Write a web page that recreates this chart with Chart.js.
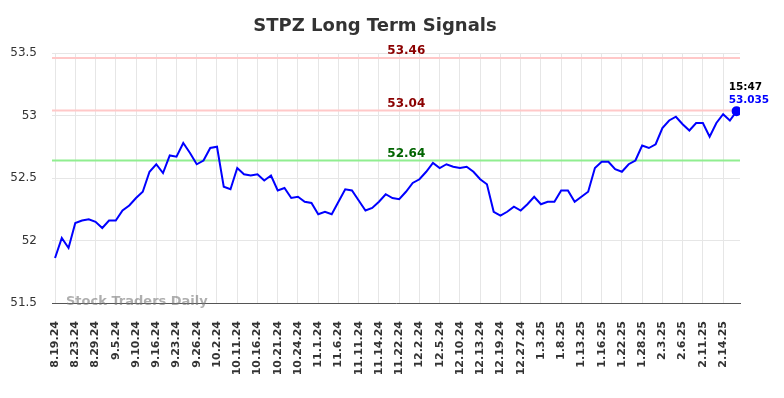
<!DOCTYPE html>
<html>
<head>
<meta charset="utf-8">
<script src="https://cdn.jsdelivr.net/npm/chart.js@4/dist/chart.umd.min.js"></script>
<style>
  html, body { margin: 0; padding: 0; background: #fff; }
  #wrap { width: 784px; height: 398px; }
</style>
</head>
<body>
<div id="wrap"><canvas id="grafica" width="784" height="398"></canvas></div>
<script>
const ticker = "STPZ";
const tickLabels = [
  "8.19.24", "8.23.24", "8.29.24", "9.5.24", "9.10.24", "9.16.24", "9.23.24", "9.26.24",
  "10.2.24", "10.11.24", "10.16.24", "10.21.24", "10.24.24", "11.1.24", "11.6.24", "11.11.24",
  "11.14.24", "11.22.24", "12.2.24", "12.5.24", "12.10.24", "12.13.24", "12.19.24", "12.27.24",
  "1.3.25", "1.8.25", "1.13.25", "1.16.25", "1.22.25", "1.28.25", "2.3.25", "2.6.25",
  "2.11.25", "2.14.25"
];
const pointsPerTick = 3;

const prices = [
  51.86, 52.02, 51.94, 52.14, 52.16, 52.17, 52.15, 52.10, 52.16, 52.16,
  52.24, 52.28, 52.34, 52.39, 52.55, 52.61, 52.54, 52.68, 52.67, 52.78,
  52.70, 52.61, 52.64, 52.74, 52.75, 52.43, 52.41, 52.58, 52.53, 52.52,
  52.53, 52.48, 52.52, 52.40, 52.42, 52.34, 52.35, 52.31, 52.30, 52.21,
  52.23, 52.21, 52.31, 52.41, 52.40, 52.32, 52.24, 52.26, 52.31, 52.37,
  52.34, 52.33, 52.39, 52.46, 52.49, 52.55, 52.62, 52.58, 52.61, 52.59,
  52.58, 52.59, 52.55, 52.49, 52.45, 52.23, 52.20, 52.23, 52.27, 52.24,
  52.29, 52.35, 52.29, 52.31, 52.31, 52.40, 52.40, 52.31, 52.35, 52.39,
  52.58, 52.63, 52.63, 52.57, 52.55, 52.61, 52.64, 52.76, 52.74, 52.77,
  52.90, 52.96, 52.99, 52.93, 52.88, 52.94, 52.94, 52.83, 52.94, 53.01,
  52.96, 53.035
];

const signalLevels = [53.46, 53.04, 52.64];
const signalKinds = ["resistance", "resistance", "support"];

const yTicks = [51.5, 52, 52.5, 53, 53.5];
const lastTime = "15:47";

const FONT = "'DejaVu Sans', sans-serif";
const estilos = {
  resistance: { line: "rgb(255,200,200)", text: "#8b0000" },
  support: { line: "rgb(144,238,144)", text: "#006400" }
};

const puntos = prices.map((v, i) => ({ x: i, y: v }));
const ultimo = prices.length - 1;

// lineas de soporte/resistencia, textos y marca de agua
const signalsPlugin = {
  id: "signals",
  beforeDatasetsDraw(chart) {
    const { ctx, chartArea } = chart;
    const y = chart.scales.y;
    ctx.save();
    signalLevels.forEach((lvl, i) => {
      const py = y.getPixelForValue(lvl);
      ctx.strokeStyle = estilos[signalKinds[i]].line;
      ctx.lineWidth = 2;
      ctx.beginPath();
      ctx.moveTo(chartArea.left, py);
      ctx.lineTo(chartArea.right, py);
      ctx.stroke();
    });
    ctx.restore();
  },
  afterDatasetsDraw(chart) {
    const { ctx, chartArea } = chart;
    const x = chart.scales.x;
    const y = chart.scales.y;
    ctx.save();

    // titulo
    ctx.font = "bold 18px " + FONT;
    ctx.fillStyle = "#333";
    ctx.textAlign = "center";
    ctx.textBaseline = "middle";
    ctx.fillText(`${ticker} Long Term Signals`, 375, 26);

    // etiquetas de niveles
    ctx.font = "bold 12px " + FONT;
    ctx.textBaseline = "alphabetic";
    const cx = chartArea.left + chartArea.width * 0.515;
    signalLevels.forEach((lvl, i) => {
      ctx.fillStyle = estilos[signalKinds[i]].text;
      ctx.fillText(lvl.toFixed(2), cx, y.getPixelForValue(lvl) - 4);
    });

    // marca de agua
    ctx.font = "bold 13px " + FONT;
    ctx.fillStyle = "rgba(120,120,120,0.6)";
    ctx.textAlign = "left";
    ctx.textBaseline = "middle";
    ctx.fillText("Stock Traders Daily", chartArea.left + 14, chartArea.bottom - 1);

    // ultimo valor
    const px = x.getPixelForValue(ultimo);
    const py = y.getPixelForValue(prices[ultimo]);
    ctx.font = "bold 10.5px " + FONT;
    ctx.fillStyle = "#000";
    ctx.fillText(lastTime, px - 8, py - 24);
    ctx.fillStyle = "#0000ff";
    ctx.fillText(prices[ultimo].toFixed(3), px - 8, py - 11);
    ctx.restore();
  }
};

const ctx = document.getElementById("grafica").getContext("2d");
new Chart(ctx, {
  type: "line",
  data: {
    datasets: [{
      label: ticker,
      data: puntos,
      borderColor: "#0000ff",
      backgroundColor: "#0000ff",
      borderWidth: 2,
      tension: 0,
      pointRadius: c => (c.dataIndex === ultimo ? 4 : 0),
      pointHoverRadius: 0
    }]
  },
  options: {
    responsive: false,
    animation: false,
    events: [],
    layout: { padding: { top: 53, right: 44, bottom: 0, left: 0 } },
    plugins: {
      legend: { display: false },
      title: { display: false },
      tooltip: { enabled: false }
    },
    scales: {
      x: {
        type: "linear",
        min: -0.45,
        max: ultimo + 0.5,
        afterFit: s => { s.height = 95; },
        afterBuildTicks: s => {
          s.ticks = tickLabels.map((_, i) => ({ value: i * pointsPerTick }));
        },
        grid: { color: "#e6e6e6", lineWidth: 1, drawTicks: false },
        border: { display: true, color: "#555", width: 1 },
        ticks: {
          autoSkip: false,
          minRotation: 90,
          maxRotation: 90,
          padding: 18,
          color: "#333",
          font: { family: FONT, size: 11, weight: "bold" },
          callback: v => tickLabels[v / pointsPerTick]
        }
      },
      y: {
        min: yTicks[0],
        max: yTicks[yTicks.length - 1],
        afterFit: s => { s.width = 52; },
        afterBuildTicks: s => {
          s.ticks = yTicks.map(v => ({ value: v }));
        },
        grid: { color: "#e6e6e6", lineWidth: 1, drawTicks: false },
        border: { display: false },
        ticks: {
          padding: 15,
          color: "#333",
          font: { family: FONT, size: 12 },
          callback: v => String(v)
        }
      }
    }
  },
  plugins: [signalsPlugin]
});
</script>
</body>
</html>
